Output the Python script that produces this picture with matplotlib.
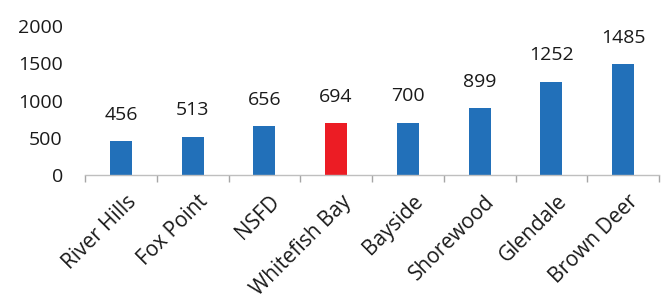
import matplotlib.pyplot as plt
import matplotlib.transforms as mtransforms
import numpy as np

# Werte
kategorien = ["River Hills", "Fox Point", "NSFD", "Whitefish Bay",
              "Bayside", "Shorewood", "Glendale", "Brown Deer"]
werte = [456, 513, 656, 694, 700, 899, 1252, 1485]
hervorgehoben = "Whitefish Bay"

blau = "#2270B9"
rot = "#EC1C24"

plt.rcParams['font.family'] = ['Open Sans', 'DejaVu Sans']

fig = plt.figure(figsize=(6.62, 3.06), dpi=100)
ax = fig.add_axes([85/662, 1 - 175/306, 574/662, 149/306])

x = np.arange(len(kategorien))
farben = [rot if k == hervorgehoben else blau for k in kategorien]
bars = ax.bar(x, werte, width=0.31, color=farben, zorder=2)

for xi, w in zip(x, werte):
    ax.annotate(str(w), (xi, w), xytext=(0, 19), textcoords="offset points",
                ha="center", va="center", fontsize=14, color="#1a1a1a")

ax.set_xlim(-0.5, len(kategorien) - 0.5)
ax.set_ylim(0, 2000)
ax.set_yticks([0, 500, 1000, 1500, 2000])
ax.tick_params(axis="y", length=0, pad=16, labelsize=14, labelcolor="#1a1a1a")

ax.set_xticks(x)
ax.set_xticklabels(kategorien, rotation=45, ha="right", va="center",
                   rotation_mode="anchor", fontsize=15, color="#1a1a1a")
ax.tick_params(axis="x", which="major", length=0, pad=17)
ax.set_xticks(np.arange(-0.5, len(kategorien)), minor=True)
ax.tick_params(axis="x", which="minor", length=5, width=1, color="#A6A6A6")

verschiebung = mtransforms.ScaledTranslation(12/100, 0, fig.dpi_scale_trans)
for lbl in ax.get_xticklabels():
    lbl.set_transform(lbl.get_transform() + verschiebung)

for s in ["top", "right", "left"]:
    ax.spines[s].set_visible(False)
ax.spines["bottom"].set_color("#BFBFBF")
ax.spines["bottom"].set_linewidth(1)

plt.savefig("out.png", dpi=100)
